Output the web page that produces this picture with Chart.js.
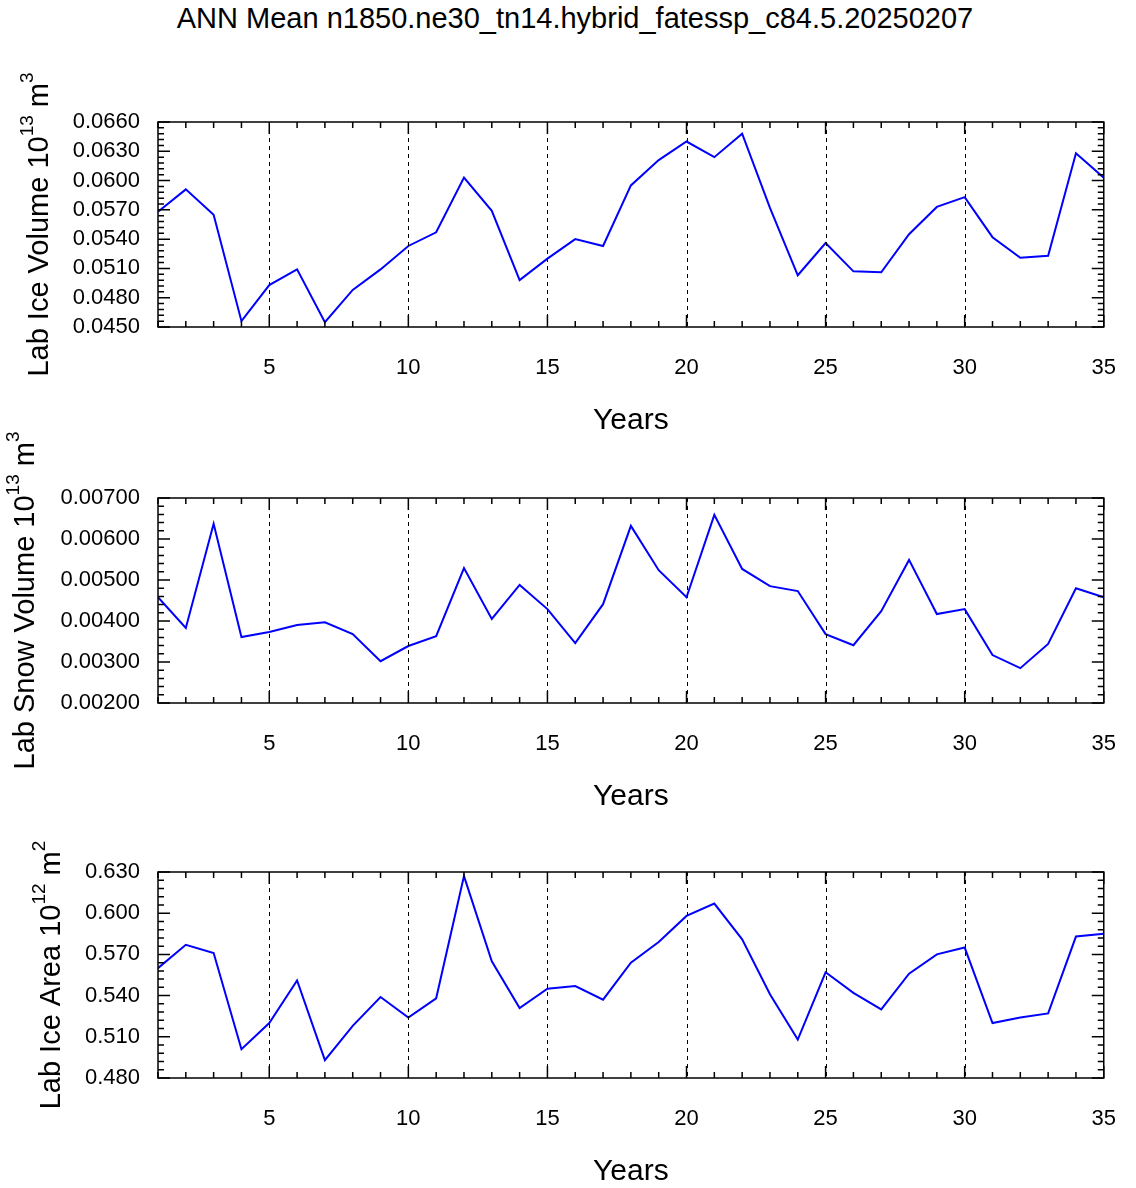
<!DOCTYPE html>
<html>
<head>
<meta charset="utf-8">
<script src="https://cdn.jsdelivr.net/npm/chart.js@4"></script>
<style>
  body { margin: 0; background: #fff; width: 1136px; height: 1188px; position: relative; overflow: hidden; }
  #title { position: absolute; top: 0; left: 0; width: 1150px; text-align: center; font: 29px "Liberation Sans", Arial, sans-serif; line-height: 36px; }
  canvas { position: absolute; left: 0; }
</style>
</head>
<body>
<div id="title">ANN Mean n1850.ne30_tn14.hybrid_fatessp_c84.5.20250207</div>
<canvas id="c0" width="1136" height="405"></canvas>
<canvas id="c1" width="1136" height="405"></canvas>
<canvas id="c2" width="1136" height="406"></canvas>
<script>
const years = Array.from({ length: 35 }, (_, i) => i + 1);
const iceVolume = [0.0568, 0.0591, 0.0565, 0.0456, 0.0493, 0.0509, 0.0455, 0.0488, 0.0509, 0.0533,
  0.0547, 0.0603, 0.0569, 0.0498, 0.0520, 0.0540, 0.0533, 0.0595, 0.0621, 0.0640,
  0.0624, 0.0648, 0.0572, 0.0503, 0.0536, 0.0507, 0.0506, 0.0545, 0.0573, 0.0583,
  0.0542, 0.0521, 0.0523, 0.0628, 0.0603];
const snowVolume = [0.00458, 0.00383, 0.00637, 0.00361, 0.00373, 0.00390, 0.00397, 0.00368, 0.00302, 0.00339,
  0.00363, 0.00529, 0.00405, 0.00488, 0.00429, 0.00346, 0.00441, 0.00632, 0.00524, 0.00458,
  0.00659, 0.00527, 0.00485, 0.00473, 0.00368, 0.00341, 0.00424, 0.00549, 0.00417, 0.00429,
  0.00317, 0.00285, 0.00344, 0.00480, 0.00458];
const iceArea = [0.560, 0.577, 0.571, 0.501, 0.520, 0.551, 0.493, 0.518, 0.539, 0.524,
  0.538, 0.627, 0.565, 0.531, 0.545, 0.547, 0.537, 0.564, 0.579, 0.598,
  0.607, 0.581, 0.541, 0.508, 0.557, 0.542, 0.530, 0.556, 0.570, 0.575,
  0.520, 0.524, 0.527, 0.583, 0.585];
const xMajorTicks = [5, 10, 15, 20, 25, 30, 35];

const panels = [
  { id: "c0", top: 42, data: iceVolume, min: 0.045, max: 0.066, step: 0.003, digits: 4, label: "Lab Ice Volume 10", sup1: "13", unit: " m", sup2: "3", yx: 40 },
  { id: "c1", top: 418, data: snowVolume, min: 0.002, max: 0.007, step: 0.001, digits: 5, label: "Lab Snow Volume 10", sup1: "13", unit: " m", sup2: "3", yx: 26 },
  { id: "c2", top: 792, data: iceArea, min: 0.48, max: 0.63, step: 0.03, digits: 3, label: "Lab Ice Area 10", sup1: "12", unit: " m", sup2: "2", yx: 52 }
];

const FONT = '"Liberation Sans", Arial, sans-serif';

const framePlugin = {
  id: "frame",
  afterDraw(chart, args, opts) {
    const { ctx, chartArea: a } = chart;
    const xs = chart.scales.x, ys = chart.scales.y;
    ctx.save();
    ctx.strokeStyle = "#000";
    ctx.lineWidth = 1;
    ctx.setLineDash([4, 4]);
    [5, 10, 15, 20, 25, 30].forEach(v => {
      const px = Math.round(xs.getPixelForValue(v)) + 0.5;
      ctx.beginPath(); ctx.moveTo(px, a.top); ctx.lineTo(px, a.bottom); ctx.stroke();
    });
    ctx.setLineDash([]);
    ctx.lineWidth = 1.5;
    ctx.strokeRect(a.left, a.top, a.right - a.left, a.bottom - a.top);
    for (let v = 1; v <= 35; v++) {
      const px = xs.getPixelForValue(v);
      const len = v % 5 === 0 ? 12 : 6;
      ctx.beginPath();
      ctx.moveTo(px, a.bottom); ctx.lineTo(px, a.bottom - len);
      ctx.moveTo(px, a.top); ctx.lineTo(px, a.top + len);
      ctx.stroke();
    }
    const minor = opts.step / 5;
    const n = Math.round((opts.max - opts.min) / minor);
    for (let i = 0; i <= n; i++) {
      const py = ys.getPixelForValue(opts.min + i * minor);
      const len = i % 5 === 0 ? 12 : 6;
      ctx.beginPath();
      ctx.moveTo(a.left, py); ctx.lineTo(a.left + len, py);
      ctx.moveTo(a.right, py); ctx.lineTo(a.right - len, py);
      ctx.stroke();
    }
    ctx.fillStyle = "#000";
    ctx.font = "30px " + FONT;
    ctx.textAlign = "center";
    ctx.textBaseline = "middle";
    ctx.fillText("Years", (a.left + a.right) / 2, a.bottom + 94);
    ctx.translate(opts.yx, (a.top + a.bottom) / 2);
    ctx.rotate(-Math.PI / 2);
    const big = "29px " + FONT, small = "19px " + FONT;
    const parts = [[opts.label, big, 0], [opts.sup1, small, -12], [opts.unit, big, 0], [opts.sup2, small, -12]];
    let total = 0;
    parts.forEach(p => { ctx.font = p[1]; total += ctx.measureText(p[0]).width; });
    let x = -total / 2;
    ctx.textAlign = "left";
    parts.forEach(p => { ctx.font = p[1]; ctx.fillText(p[0], x, p[2]); x += ctx.measureText(p[0]).width; });
    ctx.restore();
  }
};

panels.forEach(p => {
  const cv = document.getElementById(p.id);
  cv.style.top = p.top + "px";
  const yTicks = [];
  for (let v = p.min; v <= p.max + p.step / 2; v += p.step) yTicks.push(+v.toFixed(p.digits + 2));
  new Chart(cv, {
    type: "line",
    data: {
      labels: years,
      datasets: [{ data: years.map((y, i) => ({ x: y, y: p.data[i] })), borderColor: "#0000ff", borderWidth: 2, pointRadius: 0, tension: 0, fill: false }]
    },
    options: {
      responsive: false,
      devicePixelRatio: 1,
      animation: false,
      layout: { padding: { top: 80, right: 15, left: 0, bottom: 0 } },
      plugins: {
        legend: { display: false },
        tooltip: { enabled: false },
        frame: { min: p.min, max: p.max, step: p.step, yx: p.yx, label: p.label, sup1: p.sup1, unit: p.unit, sup2: p.sup2 }
      },
      scales: {
        x: {
          type: "linear", min: 1, max: 35,
          grid: { display: false }, border: { display: false },
          afterBuildTicks: s => { s.ticks = xMajorTicks.map(v => ({ value: v })); },
          afterFit: s => { s.height = 120; },
          ticks: { color: "#000", font: { size: 22, family: FONT }, padding: 20, maxRotation: 0, autoSkip: false }
        },
        y: {
          min: p.min, max: p.max,
          grid: { display: false }, border: { display: false },
          afterBuildTicks: s => { s.ticks = yTicks.map(v => ({ value: v })); },
          afterFit: s => { s.width = 158; },
          ticks: { color: "#000", font: { size: 22, family: FONT }, padding: 10, autoSkip: false, callback: v => Number(v).toFixed(p.digits) }
        }
      }
    },
    plugins: [framePlugin]
  });
});
</script>
</body>
</html>
